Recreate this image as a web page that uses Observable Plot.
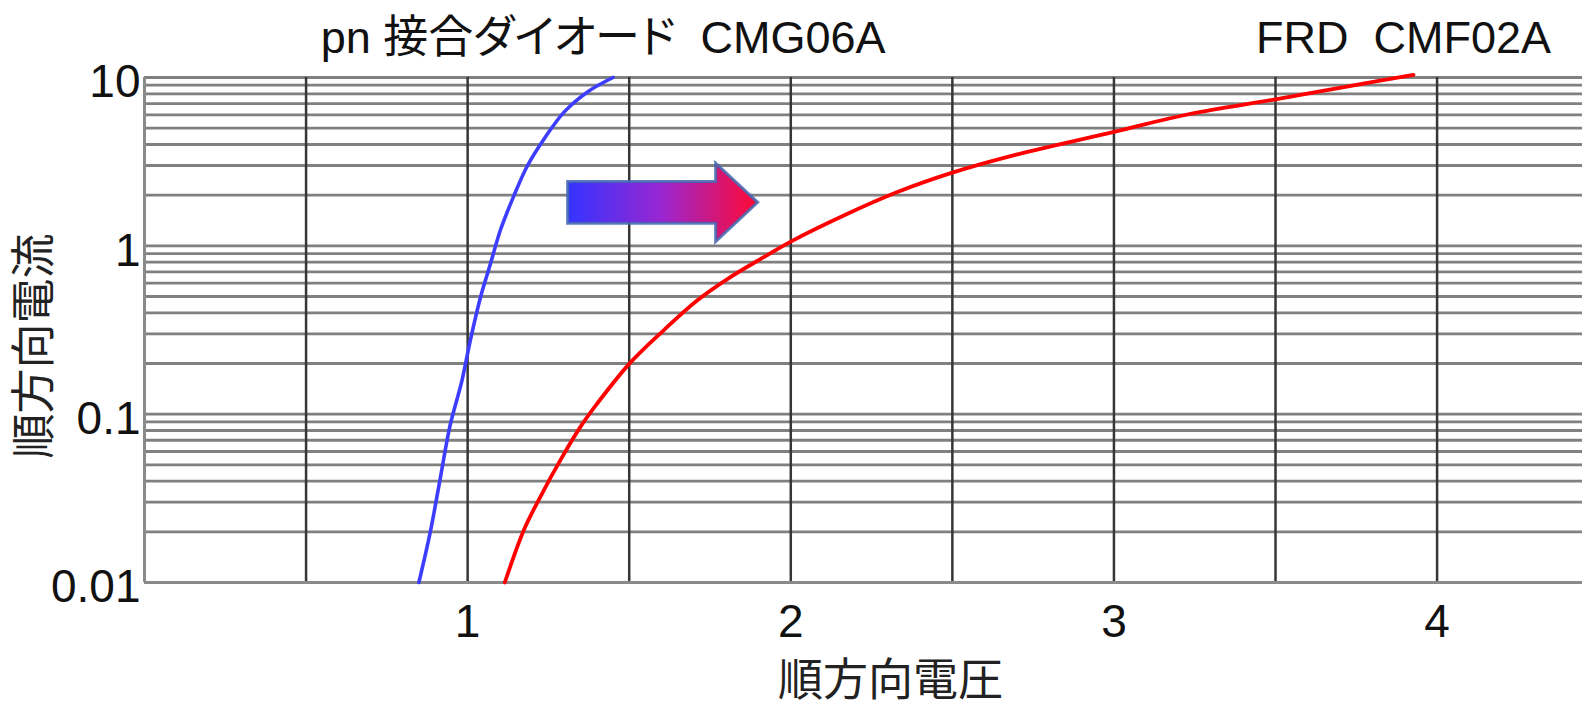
<!DOCTYPE html>
<html>
<head>
<meta charset="utf-8">
<script src="https://cdn.jsdelivr.net/npm/d3@7"></script>
<script src="https://cdn.jsdelivr.net/npm/@observablehq/plot@0.6"></script>
<style>
  html, body { margin: 0; padding: 0; background: #fff; }
  #chart svg text { white-space: pre; }
</style>
</head>
<body>
<div id="chart"></div>
<script>
// ---- data ----
const seriesNames = ["pn 接合ダイオード  CMG06A", "FRD  CMF02A"];
const seriesColors = ["#3d3dff", "#ff0000"];

// pn junction diode CMG06A : forward voltage (V), forward current (A)
const pnVoltage = [0.849, 0.884, 0.915, 0.946, 0.982, 1.008, 1.040, 1.071, 1.102, 1.143, 1.185, 1.237, 1.299, 1.372, 1.450];
const pnCurrent = [0.010, 0.0198, 0.0413, 0.0863, 0.157, 0.273, 0.497, 0.787, 1.25, 1.98, 2.99, 4.33, 6.25, 8.24, 10.0];

// FRD CMF02A
const frdVoltage = [1.115, 1.174, 1.225, 1.287, 1.349, 1.400, 1.500, 1.606, 1.709, 1.812, 1.915, 2.000, 2.169, 2.328, 2.500, 2.698, 3.000, 3.234, 3.500, 3.755, 3.927];
const frdCurrent = [0.010, 0.0205, 0.0323, 0.0533, 0.084, 0.115, 0.199, 0.314, 0.472, 0.650, 0.853, 1.06, 1.53, 2.08, 2.72, 3.48, 4.75, 6.07, 7.42, 9.07, 10.36];

// axes
const xTicks = [1, 2, 3, 4];
const xTickLabels = ["1", "2", "3", "4"];
const yTicks = [0.01, 0.1, 1, 10];
const yTickLabels = ["0.01", "0.1", "1", "10"];
const xGrid = [0.5, 1, 1.5, 2, 2.5, 3, 3.5, 4];
const yGrid = [0.01, 0.02, 0.03, 0.04, 0.05, 0.06, 0.07, 0.08, 0.09,
               0.1, 0.2, 0.3, 0.4, 0.5, 0.6, 0.7, 0.8, 0.9,
               1, 2, 3, 4, 5, 6, 7, 8, 9, 10];
const xDomain = [0, 4.45];
const yDomain = [0.01, 10];
const xTitle = "順方向電圧";
const yTitle = "順方向電流";

// shift arrow annotation (from voltage, to voltage, at current)
const arrowFromV = 1.311;
const arrowToV = 1.899;
const arrowAtI = 1.8;

// ---- build tables ----
const pnData = pnVoltage.map((v, i) => ({v, i: pnCurrent[i], s: seriesNames[0]}));
const frdData = frdVoltage.map((v, i) => ({v, i: frdCurrent[i], s: seriesNames[1]}));
const pnLast = [pnData[pnData.length - 1]];
const frdLast = [frdData[frdData.length - 1]];

const FONT = '"Liberation Sans", Arial, "Noto Sans CJK JP", sans-serif';

function arrowMark(index, scales, values, dimensions) {
  const x = scales.x, y = scales.y;
  const x0 = x(arrowFromV), x1 = x(arrowToV), yc = y(arrowAtI);
  const bodyH = 20.8, headH = 39.2, headL = 42;
  const xb = x1 - headL;
  const g = d3.create("svg:g");
  const grad = g.append("defs").append("linearGradient")
    .attr("id", "arrowGrad").attr("x1", "0%").attr("x2", "100%").attr("y1", "0%").attr("y2", "0%");
  grad.append("stop").attr("offset", "0%").attr("stop-color", "#3434ff");
  grad.append("stop").attr("offset", "50%").attr("stop-color", "#9a26d0");
  grad.append("stop").attr("offset", "100%").attr("stop-color", "#ff0a34");
  const pts = [
    [x0, yc - bodyH], [xb, yc - bodyH], [xb, yc - headH], [x1, yc],
    [xb, yc + headH], [xb, yc + bodyH], [x0, yc + bodyH]
  ];
  g.append("path")
    .attr("d", "M" + pts.map(p => p.join(",")).join("L") + "Z")
    .attr("fill", "url(#arrowGrad)")
    .attr("stroke", "#4468b2")
    .attr("stroke-width", 3)
    .attr("stroke-opacity", 0.85)
    .attr("stroke-linejoin", "miter");
  return g.node();
}

const chart = Plot.plot({
  width: 1582,
  height: 707,
  marginLeft: 144,
  marginRight: 0,
  marginTop: 77,
  marginBottom: 125,
  style: {fontFamily: FONT, color: "#111", background: "#fff", fontFeatureSettings: '"palt"', overflow: "visible"},
  x: {domain: xDomain},
  y: {type: "log", domain: yDomain},
  marks: [
    Plot.ruleY(yGrid, {stroke: "#808080", strokeWidth: 2.8}),
    Plot.ruleX(xGrid, {stroke: "#363636", strokeWidth: 2.5}),
    Plot.ruleX([0], {stroke: "#8a8a8a", strokeWidth: 3}),
    Plot.ruleY([0.01], {stroke: "#8a8a8a", strokeWidth: 3}),
    Plot.axisY({ticks: yTicks, tickFormat: d => yTickLabels[yTicks.indexOf(d)], tickSize: 0, tickPadding: 4, fontSize: 46, dy: 5, label: null}),
    Plot.axisX({ticks: xTicks, tickFormat: d => xTickLabels[xTicks.indexOf(d)], tickSize: 0, tickPadding: 22, fontSize: 46, label: null}),
    Plot.text([yTitle], {frameAnchor: "left", textAnchor: "middle", rotate: -90, dx: -109, dy: 16, fontSize: 45, fill: "#222"}),
    Plot.text([xTitle], {frameAnchor: "bottom", textAnchor: "middle", dx: 27, dy: 113, fontSize: 45, fill: "#222"}),
    Plot.line(pnData, {x: "v", y: "i", stroke: seriesColors[0], strokeWidth: 3.6, curve: "catmull-rom"}),
    Plot.line(frdData, {x: "v", y: "i", stroke: seriesColors[1], strokeWidth: 3.8, curve: "catmull-rom"}),
    arrowMark,
    Plot.text(pnLast, {x: "v", text: "s", frameAnchor: "top", dx: -10, dy: -56, fontSize: 45, letterSpacing: "-1.1px", fill: "#111"}),
    Plot.text(frdLast, {x: "v", text: "s", frameAnchor: "top", dx: -10, dy: -56, fontSize: 45, fill: "#111"})
  ]
});
document.getElementById("chart").appendChild(chart);
</script>
</body>
</html>
